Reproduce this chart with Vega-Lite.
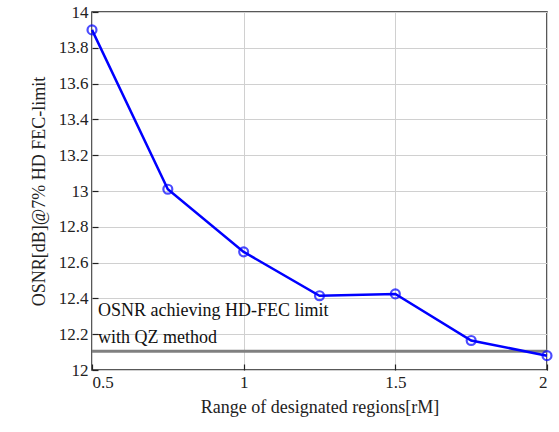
{
  "$schema": "https://vega.github.io/schema/vega-lite/v6.json",
  "autosize": "none",
  "width": 455,
  "height": 358,
  "padding": {"left": 92, "top": 12, "right": 12, "bottom": 62},
  "background": "white",
  "config": {
    "view": {"stroke": "#222222", "strokeWidth": 1.5},
    "font": "Liberation Serif",
    "axis": {
      "labelFont": "Liberation Serif",
      "titleFont": "Liberation Serif",
      "labelFontSize": 17,
      "titleFontSize": 18,
      "titleFontWeight": "normal",
      "labelColor": "#222222",
      "titleColor": "#222222",
      "labelOverlap": false,
      "domain": false,
      "tickColor": "#222222",
      "tickSize": -6,
      "tickWidth": 1.2,
      "gridColor": "#d0d0d0",
      "gridWidth": 1
    }
  },
  "datasets": {
    "curve": [
      {"r": 0.5, "osnr": 13.9},
      {"r": 0.75, "osnr": 13.01},
      {"r": 1.0, "osnr": 12.66},
      {"r": 1.25, "osnr": 12.415},
      {"r": 1.5, "osnr": 12.425},
      {"r": 1.75, "osnr": 12.165},
      {"r": 2.0, "osnr": 12.08}
    ],
    "ref": [{"osnr": 12.105}],
    "note": [
      {"r": 0.52, "osnr": 12.33, "label": "OSNR achieving HD-FEC limit"},
      {"r": 0.52, "osnr": 12.18, "label": "with QZ method"}
    ]
  },
  "encoding": {
    "x": {
      "field": "r", "type": "quantitative",
      "scale": {"domain": [0.5, 2], "nice": false, "zero": false},
      "axis": {"values": [0.5, 1, 1.5, 2], "labelOverlap": false, "labelExpr": "datum.value + ''", "title": "Range of designated regions[rM]", "labelPadding": 10, "titlePadding": 8, "grid": true, "labelFont": "Liberation Serif", "titleFont": "Liberation Serif"}
    },
    "y": {
      "field": "osnr", "type": "quantitative",
      "scale": {"domain": [12, 14], "nice": false, "zero": false},
      "axis": {"values": [12, 12.2, 12.4, 12.6, 12.8, 13, 13.2, 13.4, 13.6, 13.8, 14], "labelOverlap": false, "labelExpr": "datum.value + ''", "title": "OSNR[dB]@7% HD FEC-limit", "labelPadding": 10, "titlePadding": 10, "grid": true, "labelFont": "Liberation Serif", "titleFont": "Liberation Serif"}
    }
  },
  "layer": [
    {
      "data": {"name": "ref"},
      "mark": {"type": "rule", "color": "#808080", "strokeWidth": 3},
      "encoding": {
        "x": {"value": 0},
        "x2": {"value": 455}
      }
    },
    {
      "data": {"name": "note"},
      "mark": {"type": "text", "align": "left", "baseline": "middle", "fontSize": 18, "font": "Liberation Serif", "color": "#111111"},
      "encoding": {
        "text": {"field": "label"}
      }
    },
    {
      "data": {"name": "curve"},
      "mark": {"type": "line", "color": "#0000ff", "strokeWidth": 2.5, "clip": false}
    },
    {
      "data": {"name": "curve"},
      "mark": {"type": "point", "shape": "circle", "filled": false, "color": "#0000ff", "size": 80, "strokeWidth": 2.2, "clip": false}
    }
  ]
}
